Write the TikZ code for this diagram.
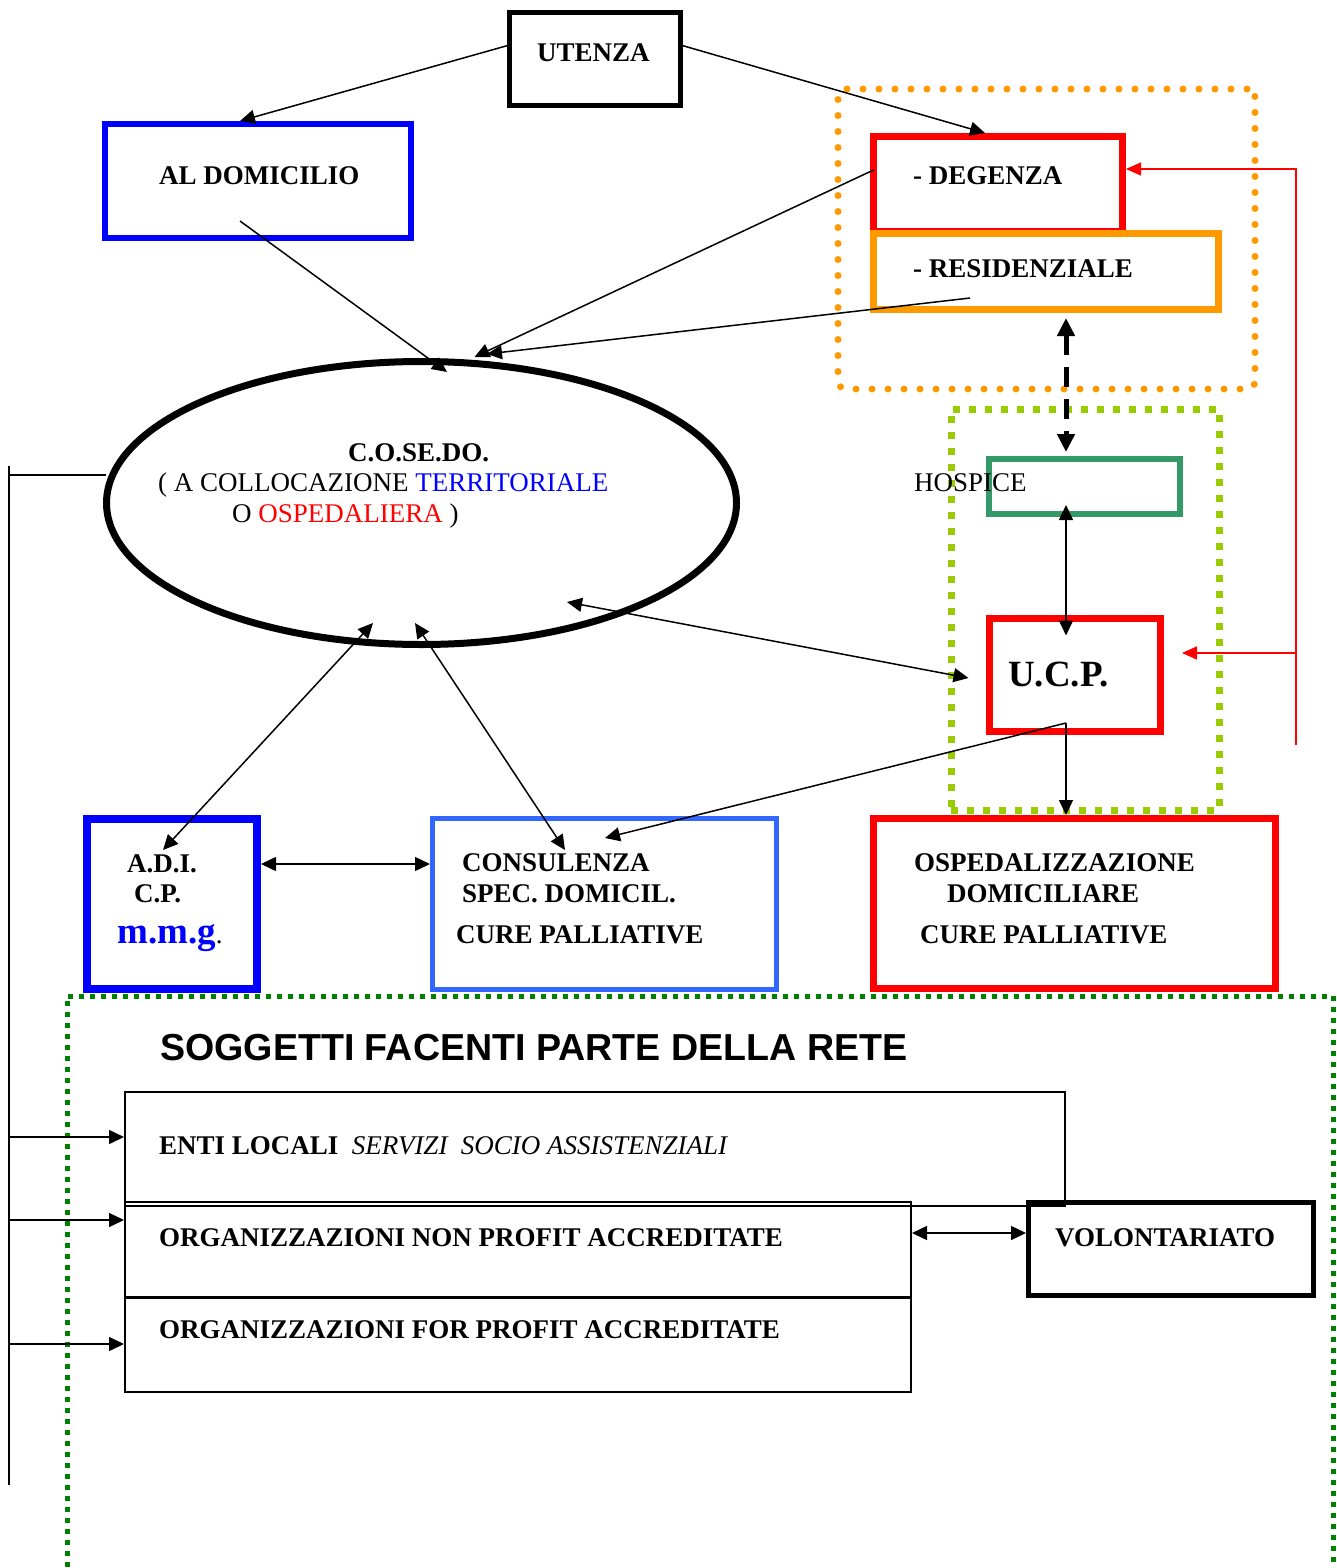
\documentclass[tikz,border=0pt]{standalone}
\usepackage{fontspec}
\setmainfont{Liberation Serif}
\newfontfamily\titlefont{Liberation Sans}
\usetikzlibrary{arrows.meta, shapes.geometric, calc}
\definecolor{domBlue}{HTML}{0000FF}
\definecolor{ospRed}{HTML}{FF0000}
\definecolor{resOrange}{HTML}{FF9900}
\definecolor{hospGreen}{HTML}{339966}
\definecolor{limeGreen}{HTML}{99CC00}
\definecolor{consBlue}{HTML}{3366FF}
\definecolor{reteGreen}{HTML}{008000}
\tikzset{
  box/.style={rectangle, draw=black, inner sep=0pt, outer sep=0pt},
  lbl/.style={anchor=base west, inner sep=0pt, font=\fontsize{27}{31}\selectfont\bfseries},
  plain/.style={anchor=base west, inner sep=0pt, font=\fontsize{27}{31}\selectfont},
  link/.style={-{Triangle[length=15pt, width=14pt]}, line width=1.5pt},
  bilink/.style={{Triangle[length=15pt, width=14pt]}-{Triangle[length=15pt, width=14pt]}, line width=1.5pt},
  swap/.style={{Triangle[length=18pt, width=17pt]}-{Triangle[length=18pt, width=17pt]}, line width=5pt, dash pattern=on 20pt off 12pt},
  feedback/.style={-{Triangle[length=15pt, width=13pt]}, draw=ospRed, line width=1.5pt},
  bus/.style={line width=1.8pt},
}

\begin{document}
\begin{tikzpicture}[x=1pt, y=-1pt]
  \useasboundingbox (0,0) rectangle (1336,1568);

  % --- upper boxes ---
  \node[box, line width=5pt, minimum width=171pt, minimum height=93pt] (utenza) at (595,59) {};
  \node[box, draw=domBlue, line width=6pt, minimum width=306pt, minimum height=114pt] (dom) at (258,181) {};
  \node[box, draw=ospRed, line width=7pt, minimum width=249pt, minimum height=95pt] (deg) at (998,184) {};
  \node[box, draw=resOrange, line width=7pt, minimum width=345pt, minimum height=76pt] (res) at (1046,271.5) {};
  \node[box, draw=hospGreen, line width=6pt, minimum width=191pt, minimum height=55pt] (hospice) at (1084.5,486.5) {};
  \node[box, draw=ospRed, line width=7pt, minimum width=171pt, minimum height=113pt] (ucp) at (1075,675) {};
  \node[ellipse, draw, line width=7pt, inner sep=0pt, outer sep=0pt, minimum width=630pt, minimum height=283pt] (cosedo) at (421.5,503) {};

  % --- dotted frames ---
  \node[box, draw=resOrange, line width=7pt, dash pattern=on 0pt off 16pt, line cap=round, rounded corners=8pt,
        minimum width=417pt, minimum height=300pt] (resFrame) at (1046.5,239) {};
  \node[box, draw=limeGreen, line width=7pt, dash pattern=on 7pt off 9pt,
        minimum width=268pt, minimum height=401pt] (ucpFrame) at (1085,609.5) {};

  % --- middle row ---
  \node[box, draw=domBlue, line width=8pt, minimum width=170pt, minimum height=170pt] (adi) at (172,904) {};
  \node[box, draw=consBlue, line width=5pt, minimum width=344pt, minimum height=171pt] (cons) at (604.5,904) {};
  \node[box, draw=ospRed, line width=7pt, minimum width=402pt, minimum height=170pt] (osp) at (1074.5,903.5) {};

  % --- network frame and members ---
  \node[box, draw=reteGreen, line width=5pt, dash pattern=on 5pt off 6pt, anchor=north west,
        minimum width=1266pt, minimum height=620pt] (rete) at (67,996) {};
  \node[box, line width=1.8pt, minimum width=940pt, minimum height=114pt] (enti) at (595,1149) {};
  \node[box, line width=1.8pt, minimum width=786pt, minimum height=95pt] (nonprofit) at (518,1249.5) {};
  \node[box, line width=1.8pt, minimum width=786pt, minimum height=94pt] (forprofit) at (518,1345) {};
  \node[box, line width=5pt, minimum width=285pt, minimum height=93pt] (volont) at (1171,1249) {};

  % --- labels ---
  \node[lbl] (utenzaTxt) at (537,62) {UTENZA};
  \node[lbl] (domTxt) at (159,184) {AL DOMICILIO};
  \node[lbl] (degTxt) at (913,184) {- DEGENZA};
  \node[lbl] (resTxt) at (913,277) {- RESIDENZIALE};
  \node[plain] (hospTxt) at (914,491) {HOSPICE};
  \node[lbl, font=\fontsize{37}{40}\selectfont\bfseries] (ucpTxt) at (1008,686) {U.C.P.};
  \node[lbl] (cosedoTxt) at (348,461) {C.O.SE.DO.};
  \node[plain] (cosedoSub) at (158,491) {( A COLLOCAZIONE \textcolor{domBlue}{TERRITORIALE}};
  \node[plain] (cosedoSubB) at (232,522) {O \textcolor{ospRed}{OSPEDALIERA} )};
  \node[lbl] (adiTxt) at (127,872) {A.D.I.};
  \node[lbl] (cpTxt) at (134,902) {C.P.};
  \node[lbl] (mmgTxt) at (117,943) {\textcolor{domBlue}{\fontsize{37}{40}\selectfont m.m.g}\mdseries\color{black}.};
  \node[lbl] (consTxt) at (462,871) {CONSULENZA};
  \node[lbl] (consTxtB) at (462,902) {SPEC. DOMICIL.};
  \node[lbl] (consTxtC) at (456,943) {CURE PALLIATIVE};
  \node[lbl] (ospTxt) at (914,871) {OSPEDALIZZAZIONE};
  \node[lbl] (ospTxtB) at (947,902) {DOMICILIARE};
  \node[lbl] (ospTxtC) at (920,943) {CURE PALLIATIVE};
  \node[lbl, font=\fontsize{37.6}{40}\selectfont\titlefont\bfseries] (reteTxt) at (160,1060) {SOGGETTI FACENTI PARTE DELLA RETE};
  \node[lbl] (entiTxt) at (159,1154) {ENTI LOCALI\ \ \mdseries\itshape SERVIZI\ \ SOCIO ASSISTENZIALI};
  \node[lbl] (nonprofitTxt) at (159,1246) {ORGANIZZAZIONI NON PROFIT ACCREDITATE};
  \node[lbl] (forprofitTxt) at (159,1338) {ORGANIZZAZIONI FOR PROFIT ACCREDITATE};
  \node[lbl] (volontTxt) at (1055,1246) {VOLONTARIATO};

  % --- access from UTENZA ---
  \draw[link] ($(utenza.west)+(0,-14)$) -- ($(dom.north)+(-18,-3)$);
  \draw[link] ($(utenza.east)+(0,-14)$) -- ($(deg.north)+(-13,-3.5)$);

  % --- flows into C.O.SE.DO. ---
  \draw[link] ($(dom.center)+(-18,40)$) -- ($(cosedo.center)+(25.5,-131)$);
  \draw[link] ($(deg.west)+(0,-14)$) -- ($(cosedo.center)+(53,-146)$);
  \draw[link] ($(res.center)+(-76,26.5)$) -- ($(cosedo.center)+(65.5,-149)$);
  \draw[bilink] ($(cosedo.center)+(145.5,99)$) -- ($(ucp.west)+(-21,3)$);
  \draw[bilink] ($(adi.north)+(-9,31)$) -- ($(cosedo.center)+(-48.5,120)$);
  \draw[bilink] ($(cons.north)+(-39.5,31.5)$) -- ($(cosedo.center)+(-6.5,120)$);

  % --- U.C.P. links ---
  \coordinate (ucpFoot) at ($(ucp.south)+(-9,-8.5)$);
  \draw[link] (ucpFoot) -- ($(cons.north)+(0.5,19.5)$);
  \draw[link] (ucpFoot) -- ($(osp.north)+(-8.5,-3.5)$);
  \draw[bilink] ($(hospice.south)+(-18.5,-9)$) -- ($(ucp.north)+(-9,17)$);
  \draw[swap] ($(res.south)+(20,8.5)$) -- ($(hospice.north)+(-18.5,-7)$);
  \draw[bilink] ($(adi.east)+(4,-40)$) -- ($(cons.west)+(-2.5,-40)$);
  \draw[bilink] ($(nonprofit.east)+(1,-16.5)$) -- ($(volont.west)+(-2.5,-16)$);

  % --- red feedback on the right ---
  \coordinate (redFoot) at (1296,745);
  \coordinate (redTip) at ($(ucp.east)+(21.5,-22)$);
  \draw[feedback] (redFoot) |- ($(deg.east)+(3.5,-15)$);
  \draw[feedback] (redFoot |- redTip) -- (redTip);

  % --- left bus ---
  \coordinate (busTop) at (9,466);
  \coordinate (busEnd) at (9,1485);
  \coordinate (cosedoL) at ($(cosedo.center)+(-315.5,-28)$);
  \coordinate (entiIn) at ($(enti.west)+(-1,-12)$);
  \coordinate (nonprofitIn) at ($(nonprofit.west)+(-1,-29.5)$);
  \coordinate (forprofitIn) at ($(forprofit.west)+(-1,-1)$);
  \draw[bus] (busTop) -- (busEnd);
  \draw[bus] (busTop |- cosedoL) -- (cosedoL);
  \draw[link] (busTop |- entiIn) -- (entiIn);
  \draw[link] (busTop |- nonprofitIn) -- (nonprofitIn);
  \draw[link] (busTop |- forprofitIn) -- (forprofitIn);
\end{tikzpicture}
\end{document}
